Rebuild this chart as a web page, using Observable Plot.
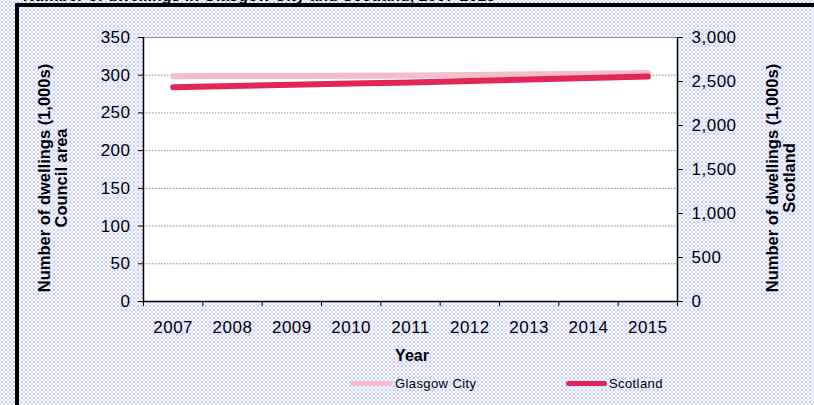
<!DOCTYPE html>
<html><head><meta charset="utf-8">
<script src="https://cdn.jsdelivr.net/npm/d3@7"></script>
<script src="https://cdn.jsdelivr.net/npm/@observablehq/plot@0.6"></script>
<style>
body{margin:0;background:#fff;}
#wrap{position:relative;width:814px;height:405px;overflow:hidden;background-color:#fbfbff;
 background-image:radial-gradient(circle, #c6caf8 0.9px, transparent 1.3px),radial-gradient(circle, #dcdffb 0.8px, transparent 1.2px);
 background-size:4px 4px,4px 4px;background-position:0 0,2px 2px;
 font-family:"Liberation Sans",Arial,sans-serif;color:#000;}
#wrap svg{position:absolute;left:0;top:0;}
.t{position:absolute;white-space:nowrap;}
.frameTop{position:absolute;left:15px;top:3px;width:800px;height:4px;background:#000;}
.frameLeft{position:absolute;left:15px;top:3px;width:4px;height:410px;background:#000;}
.ytitle{position:absolute;font-weight:bold;font-size:16.5px;line-height:17px;text-align:center;transform:translate(-50%,-50%) rotate(-90deg);white-space:nowrap;}
.leg{position:absolute;font-size:13px;letter-spacing:0.4px;line-height:14px;}
.legline{position:absolute;height:5px;border-radius:3px;}
#wrap svg text{font-size:17px;letter-spacing:0.5px;}
</style></head>
<body>
<div id="wrap">
  <div class="t" style="left:23px;top:-12px;font-weight:bold;font-size:16px;line-height:16px;">Number of dwellings in Glasgow City and Scotland, 2007-2015</div>
  <div class="frameTop"></div>
  <div class="frameLeft"></div>
</div>
<script>
const years = [2007, 2008, 2009, 2010, 2011, 2012, 2013, 2014, 2015];
const glasgow = [298.5, 298.8, 299.1, 299.4, 299.7, 300.4, 301.2, 302.1, 303.1];
const scotland = [2435, 2449, 2462, 2476, 2489, 2505, 2522, 2540, 2557];
const leftTicks = [0, 50, 100, 150, 200, 250, 300, 350];
const rightTicks = [0, 500, 1000, 1500, 2000, 2500, 3000];
const leftMax = 350, rightMax = 3000;
const seriesNames = ["Glasgow City", "Scotland"];
const colors = ["#f5bccb", "#e3265a"];

const toLeft = v => v * leftMax / rightMax;
const data = years.map((y, i) => ({year: y, glasgow: glasgow[i], scotland: scotland[i]}));
const x0 = years[0] - 0.5, x1 = years[years.length - 1] + 0.5;
const bounds = [x0, ...years.map(y => y + 0.5)];
const fmt = d3.format(",");

const chart = Plot.plot({
  width: 814, height: 405,
  marginLeft: 143, marginRight: 137, marginTop: 37, marginBottom: 104,
  style: {background: "transparent", fontSize: "17px", fontFamily: "'Liberation Sans', Arial, sans-serif", color: "#000", overflow: "visible"},
  x: {domain: [x0, x1]},
  y: {domain: [0, leftMax]},
  marks: [
    Plot.frame({fill: "white", stroke: "#8a8a8a"}),
    Plot.gridY(leftTicks.filter(t => t > 0 && t < leftMax), {stroke: "#8a8a8a", strokeOpacity: 1, strokeDasharray: "1.5,1.5"}),
    Plot.line(data, {x: "year", y: "glasgow", stroke: colors[0], strokeWidth: 6, strokeLinecap: "round"}),
    Plot.line(data, {x: "year", y: d => toLeft(d.scotland), stroke: colors[1], strokeWidth: 6, strokeLinecap: "round"}),
    Plot.ruleY([0], {stroke: "#000", strokeWidth: 1.5}),
    Plot.ruleX([x0, x1], {stroke: "#000", strokeWidth: 1.5}),
    Plot.axisY({ticks: leftTicks, tickSize: 5, tickPadding: 8, tickFormat: fmt, label: null}),
    Plot.axisY({anchor: "right", ticks: rightTicks.map(toLeft), tickSize: 5, tickPadding: 9, tickFormat: v => fmt(Math.round(v * rightMax / leftMax)), label: null}),
    Plot.axisX({ticks: years, tickSize: 0, tickPadding: 19, tickFormat: d => String(d), label: null}),
    Plot.axisX({ticks: bounds, tickSize: 5, tickFormat: () => "", label: null})
  ]
});
const wrap = document.getElementById("wrap");
wrap.appendChild(chart);

function addDiv(cls, text, style) {
  const d = document.createElement("div");
  d.className = cls; if (text) d.textContent = text;
  Object.assign(d.style, style);
  wrap.appendChild(d);
  return d;
}
addDiv("ytitle", null, {left: "53px", top: "178px"}).innerHTML = "Number of dwellings (1,000s)<br>Council area";
addDiv("ytitle", null, {left: "781px", top: "178px"}).innerHTML = "Number of dwellings (1,000s)<br>Scotland";
addDiv("t", "Year", {left: "412px", top: "356px", transform: "translate(-50%,-50%)", fontWeight: "bold", fontSize: "16px"});
addDiv("legline", null, {left: "350px", top: "381px", width: "43px", background: colors[0]});
addDiv("leg", seriesNames[0], {left: "395px", top: "377px"});
addDiv("legline", null, {left: "566px", top: "381px", width: "41px", background: colors[1]});
addDiv("leg", seriesNames[1], {left: "609px", top: "377px"});
</script>
</body></html>
